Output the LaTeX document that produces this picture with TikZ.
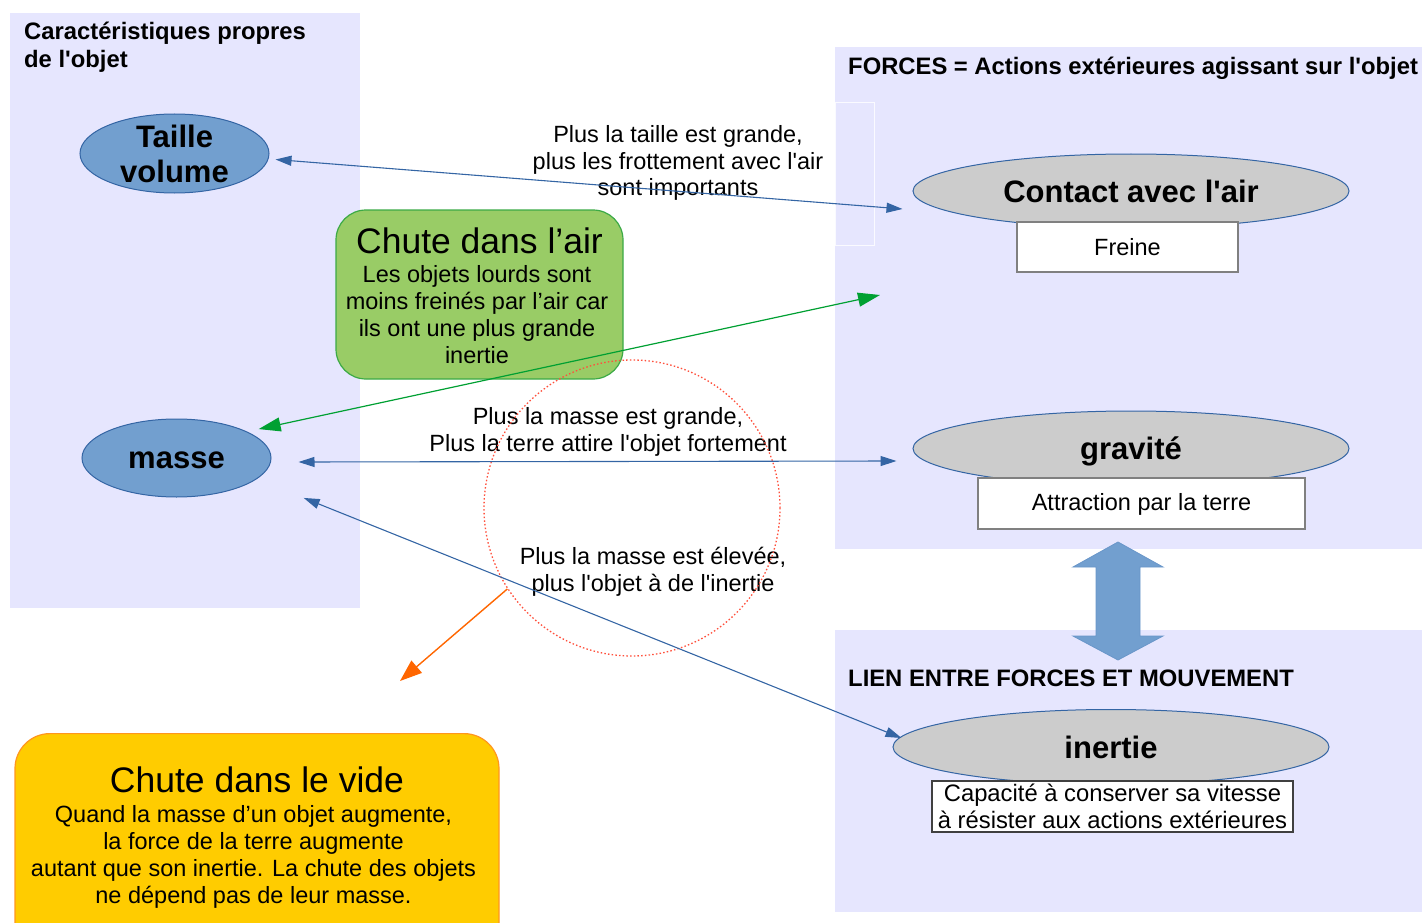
\documentclass[tikz,border=0pt]{standalone}
\usepackage{fontspec}
\setmainfont{Liberation Sans}
\usetikzlibrary{arrows.meta,shapes.geometric,calc}
\newcommand{\myap}{\textquotesingle}
\definecolor{panel}{RGB}{230,230,254}
\definecolor{lblue}{RGB}{114,159,207}
\definecolor{dblue}{RGB}{52,101,164}
\definecolor{lgrey}{RGB}{204,204,204}
\definecolor{gfill}{RGB}{153,204,102}
\definecolor{gline}{RGB}{60,170,70}
\definecolor{garrow}{RGB}{0,160,50}
\definecolor{yfill}{RGB}{255,204,0}
\definecolor{yline}{RGB}{255,150,30}
\definecolor{oarrow}{RGB}{255,102,0}
\definecolor{rdot}{RGB}{255,80,60}
\tikzset{
  txt/.style={font=\fontsize{23.5}{26.8}\selectfont, align=center, inner sep=0pt},
  hdr/.style={font=\bfseries\fontsize{23.8}{28}\selectfont, align=left, inner sep=0pt, anchor=west},
  bigtitle/.style={font=\fontsize{35.5}{40}\selectfont, inner sep=0pt},
  elltxt/.style={font=\bfseries\fontsize{31}{35}\selectfont, align=center, inner sep=0pt},
  blueell/.style={ellipse, draw=dblue, fill=lblue, line width=1pt, inner sep=0pt, elltxt},
  greyell/.style={ellipse, draw=dblue, fill=lgrey, line width=1pt, inner sep=0pt, elltxt},
  wbox/.style={txt, draw=gray, fill=white, line width=1.2pt},
  bluearr/.style={draw=dblue, line width=1.1pt, {Triangle[length=16pt,width=10pt]}-{Triangle[length=16pt,width=10pt]}},
  greenarr/.style={draw=garrow, line width=1.2pt, {Triangle[length=22pt,width=14pt]}-{Triangle[length=22pt,width=14pt]}},
  orangearr/.style={draw=oarrow, line width=1.4pt, -{Triangle[length=22pt,width=16pt]}},
  rbox/.style={line width=1.2pt, inner sep=0pt}
}
\begin{document}
\begin{tikzpicture}[x=1pt,y=-1pt]
\useasboundingbox (0,0) rectangle (1422,923);
\clip (0,0) rectangle (1422,923);
% panels
\fill[panel] (10,13) rectangle (360,608);
\fill[panel] (835,47) rectangle (1422,549);
\fill[panel] (835,630) rectangle (1422,912);
\draw[white!80!panel, line width=0.8pt] (835,102) rectangle (874,245);
% headers
\node[hdr] (hleft) at (24,47) {Caractéristiques propres\\de l\myap objet};
\node[hdr] (hforces) at (848,68) {FORCES = Actions extérieures agissant sur l\myap objet};
\node[hdr] (hlien) at (848,678) {LIEN ENTRE FORCES ET MOUVEMENT};
% ellipses
\node[blueell, minimum width=189pt, minimum height=79pt, label={[elltxt,yshift=-0.5pt]center:{Taille\\volume}}] (taille) at (174.5,153.5) {};
\node[blueell, minimum width=189pt, minimum height=78pt, label={[elltxt,yshift=-2pt]center:masse}] (masse) at (176.5,458) {};
\node[greyell, minimum width=436pt, minimum height=74pt] (contact) at (1131,191) {Contact avec l\myap air};
\node[greyell, minimum width=436pt, minimum height=75pt, label={[elltxt,yshift=-3pt]center:gravité}] (gravite) at (1131,448.5) {};
\node[greyell, minimum width=436pt, minimum height=75pt] (inertie) at (1111,747) {inertie};
% white boxes
\node[wbox, minimum width=221pt, minimum height=50pt] (freine) at (1127.5,247) {Freine};
\node[wbox, minimum width=327pt, minimum height=51pt, text height=17pt, text depth=4pt] (attraction) at (1141.5,503.5) {Attraction par la terre};
\node[wbox, draw=black!75, minimum width=361pt, minimum height=51pt, font=\fontsize{23.8}{26.5}\selectfont] (capacite) at (1112.5,806.5) {Capacité à conserver sa vitesse\\à résister aux actions extérieures};
% block double arrow
\filldraw[fill=lblue, draw=lblue!85!dblue, line width=0.8pt]
  (1118,542) -- (1163,567) -- (1140,567) -- (1140,636) -- (1163,636) -- (1118,660)
  -- (1073,636) -- (1096,636) -- (1096,567) -- (1073,567) -- cycle;
% green box
\node[rbox, draw=gline, fill=gfill, rounded corners=30pt, minimum width=287pt, minimum height=169pt] (gbox) at (479.5,294.5) {};
\node[bigtitle] (gtitle) at ($(gbox.north)+(0,31)$) {Chute dans l’air};
\node[txt] (gbody) at ($(gbox.north)+(-2.5,105)$) {Les objets lourds sont\\moins freinés par l’air car\\ils ont une plus grande\\inertie};
% yellow box
\node[rbox, draw=yline, fill=yfill, rounded corners=35pt, minimum width=484pt, minimum height=227pt, anchor=north] (ybox) at (257,733) {};
\node[bigtitle] (ytitle) at ($(ybox.north)+(0,47)$) {Chute dans le vide};
\node[txt] (ybody) at ($(ybox.north)+(-3.5,124)$) {Quand la masse d’un objet augmente,\\la force de la terre augmente\\autant que son inertie. La chute des objets\\ne dépend pas de leur masse.};
% connector labels
\node[txt] (ltaille) at (678,163) {Plus la taille est grande,\\plus les frottement avec l\myap air\\sont importants};
\node[txt] (lmasse) at (608,432) {Plus la masse est grande,\\Plus la terre attire l\myap objet fortement};
\node[txt] (linertie) at (653,572) {Plus la masse est élevée,\\plus l\myap objet à de l\myap inertie};
% dotted circle
\node[circle, draw=rdot, line width=1.3pt, dash pattern=on 1.5pt off 2.2pt, minimum size=296pt, inner sep=0pt] (circ) at (632,508) {};
% free ends
\coordinate (airpt) at (880,295);
\coordinate (vidept) at (400,681);
% connectors
\draw[bluearr] ([xshift=6pt,yshift=-6pt]taille.east) -- ([xshift=-10pt,yshift=-18pt]contact.west);
\draw[greenarr] ([xshift=15pt,yshift=1pt]masse.north east) -- (airpt);
\draw[bluearr] ([xshift=27pt,yshift=-4pt]masse.east) -- ([xshift=-16pt,yshift=-12.5pt]gravite.west);
\draw[bluearr] ([xshift=60pt,yshift=-12pt]masse.south east) -- ([xshift=9pt,yshift=9pt]inertie.west);
\draw[orangearr] (circ.213) -- (vidept);
\end{tikzpicture}
\end{document}
